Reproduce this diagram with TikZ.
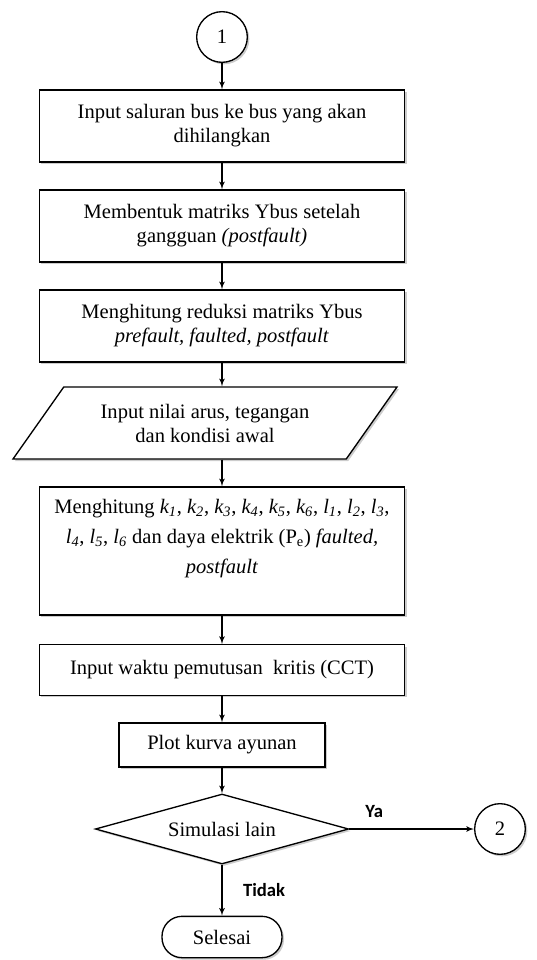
\documentclass[tikz,border=0pt]{standalone}
\usepackage{fontspec}
\setmainfont{Liberation Serif}
\newfontfamily\labelfont{Carlito}
\usetikzlibrary{shapes, arrows, positioning, shapes.geometric, shadows}
\tikzstyle{base} = [draw, fill=white, line width=1pt, align=center,
    font=\fontsize{15.4}{18}\selectfont,
    drop shadow={shadow xshift=1.5pt, shadow yshift=-1.5pt, fill=black!40}]
\tikzstyle{block} = [base, rectangle, minimum width=274pt, minimum height=54pt]
\tikzstyle{io} = [base, trapezium, trapezium left angle=43, trapezium right angle=137,
    trapezium stretches body, minimum width=288pt, minimum height=54pt]
\tikzstyle{decision} = [base, diamond, aspect=3.6, inner sep=0pt,
    minimum width=190pt, minimum height=52.5pt]
\tikzstyle{connector} = [base, circle, inner sep=0pt, minimum size=38pt]
\tikzstyle{terminal} = [base, rectangle, rounded corners=15pt,
    minimum width=90pt, minimum height=31pt]
\tikzstyle{line} = [draw, line width=1pt, -latex']
\tikzstyle{answer} = [font=\labelfont\bfseries\fontsize{14}{16}\selectfont]
\newcommand{\kl}[2]{\textit{#1\textsubscript{#2}}}

\begin{document}
\begin{tikzpicture}[auto]
  \useasboundingbox (-166.5pt,27.75pt) rectangle (235.5pt,-692.25pt);
  % Place nodes
  \node[connector] (start) {1};
  \node[block, below of=start, node distance=66.75pt] (hapus) {Input saluran bus ke bus yang akan\\ dihilangkan};
  \node[block, below of=hapus, node distance=75pt] (ybus) {Membentuk matriks Ybus setelah\\ gangguan \textit{(postfault)}};
  \node[block, below of=ybus, node distance=75pt] (reduksi) {Menghitung reduksi matriks Ybus\\ \textit{prefault, faulted, postfault}};
  \node[io, below of=reduksi, node distance=72.75pt, xshift=-12.75pt] (awal) {Input nilai arus, tegangan\\ dan kondisi awal};
  \node[block, below of=awal, node distance=96pt, xshift=12.75pt, minimum height=96pt,
    font=\fontsize{15.4}{22.5}\selectfont] (hitung) {Menghitung \kl{k}{1}, \kl{k}{2}, \kl{k}{3}, \kl{k}{4}, \kl{k}{5}, \kl{k}{6}, \kl{l}{1}, \kl{l}{2}, \kl{l}{3},\\ \kl{l}{4}, \kl{l}{5}, \kl{l}{6} dan daya elektrik (P\textsubscript{e}) \textit{faulted,}\\ \textit{postfault}\\ \mbox{}};
  \node[block, below of=hitung, node distance=89.25pt, minimum height=38pt] (cct) {Input waktu pemutusan\ \ kritis (CCT)};
  \node[block, below of=cct, node distance=56.25pt, minimum width=154.5pt, minimum height=33pt] (plot) {Plot kurva ayunan};
  \node[decision, below of=plot, node distance=63pt] (lagi) {Simulasi lain};
  \node[connector, right of=lagi, node distance=208.5pt] (next) {2};
  \node[terminal, below of=lagi, node distance=81pt] (stop) {Selesai};

  % Draw edges
  \path [line] (start) -- (hapus);
  \path [line] (hapus) -- (ybus);
  \path [line] (ybus) -- (reduksi);
  \path [line] (reduksi) -- (reduksi |- awal.north);
  \path [line] (hitung |- awal.south) -- (hitung);
  \path [line] (hitung) -- (cct);
  \path [line] (cct) -- (plot);
  \path [line] (plot) -- (lagi);
  \path [line] (lagi) -- node [answer, pos=0.2, above=5pt] {Ya} (next);
  \path [line] (lagi) -- node [answer, right, xshift=12pt] {Tidak} (stop);
\end{tikzpicture}
\end{document}
